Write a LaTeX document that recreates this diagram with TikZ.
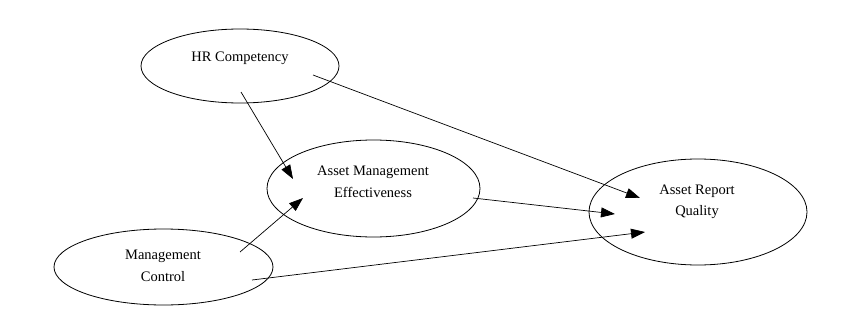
\documentclass[tikz,border=0pt]{standalone}
\usepackage{fontspec}
\setmainfont{Liberation Serif}
\usetikzlibrary{shapes.geometric,arrows.meta}
\begin{document}
\begin{tikzpicture}[x=1pt,y=-1pt,
  oval/.style={draw,ellipse,line width=0.8pt,inner sep=0pt},
  lbl/.style={align=center,font=\fontsize{14.5}{21.5}\selectfont,inner sep=0pt},
  link/.style={line width=0.7pt,-{Triangle[length=14pt,width=10pt]}}]
\useasboundingbox (0,0) rectangle (856,329);
\node[oval,minimum width=198pt,minimum height=74pt] (hr) at (240,66) {};
\node[oval,minimum width=213pt,minimum height=97pt] (ame) at (373.5,188.5) {};
\node[oval,minimum width=219pt,minimum height=76pt] (mc) at (163.5,267) {};
\node[oval,minimum width=218pt,minimum height=106pt] (arq) at (698,212) {};
\node[lbl] (hrt) at (240,58) {HR Competency};
\node[lbl] (amet) at (373,182) {Asset Management\\Effectiveness};
\node[lbl] (mct) at (163,266) {Management\\Control};
\node[lbl] (arqt) at (697,202) {Asset Report\\Quality};
\coordinate (hrA) at (241,92);
\coordinate (hrB) at (313,75);
\coordinate (ameIn1) at (293,179);
\coordinate (ameIn2) at (303,198);
\coordinate (ameOut) at (473,198);
\coordinate (mcA) at (240,252);
\coordinate (mcB) at (252,280);
\coordinate (arqIn1) at (640,198);
\coordinate (arqIn2) at (615,214);
\coordinate (arqIn3) at (645,232);
\draw[link] (hrA) -- (ameIn1);
\draw[link] (hrB) -- (arqIn1);
\draw[link] (ameOut) -- (arqIn2);
\draw[link] (mcA) -- (ameIn2);
\draw[link] (mcB) -- (arqIn3);
\end{tikzpicture}
\end{document}
